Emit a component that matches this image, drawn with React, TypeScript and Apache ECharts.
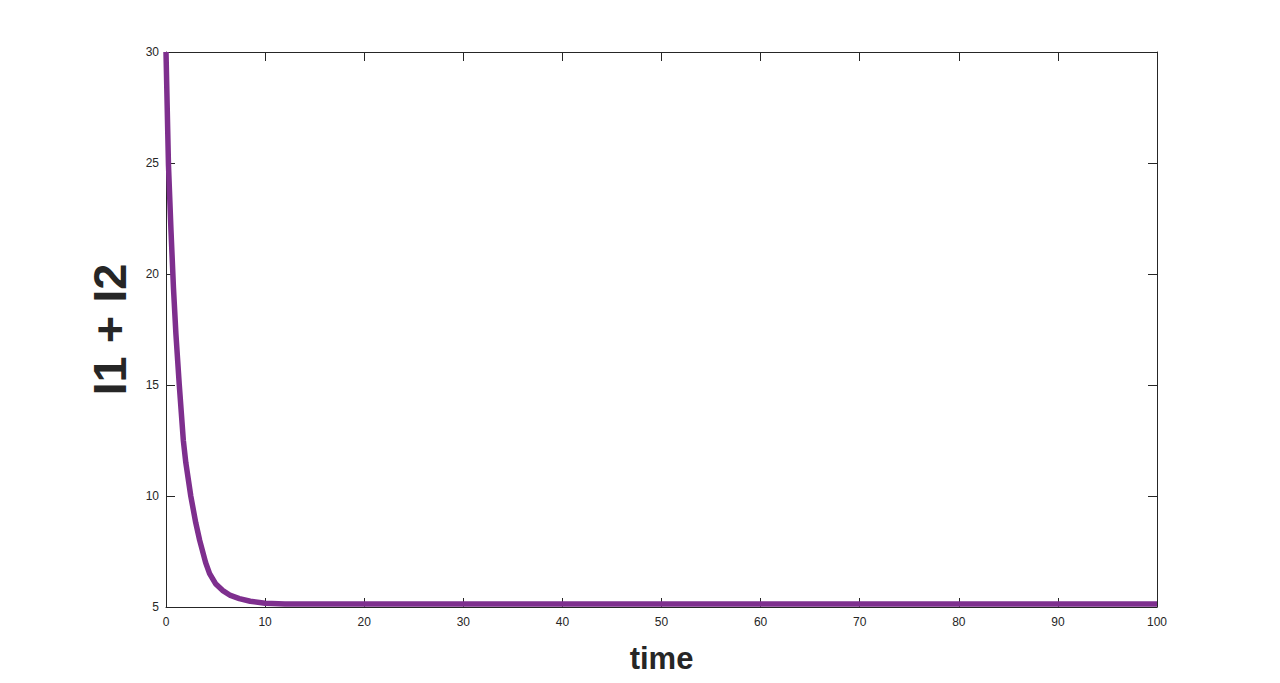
import React, { useEffect, useRef } from "react";
import * as echarts from "echarts";

const times = [0, 0.25, 0.5, 0.75, 1, 1.34, 1.75, 2, 2.5, 3, 3.4, 4, 4.4, 5, 5.7, 6.5, 7.4, 8.5, 10, 12, 15, 20, 30, 40, 50, 60, 70, 80, 90, 100];
const values = [30, 24.9, 22.0, 19.4, 17.3, 15.0, 12.5, 11.5, 10.0, 8.8, 8.0, 7.0, 6.5, 6.05, 5.75, 5.52, 5.38, 5.26, 5.17, 5.14, 5.13, 5.13, 5.13, 5.13, 5.13, 5.13, 5.13, 5.13, 5.13, 5.13];
const xTicks = [0, 10, 20, 30, 40, 50, 60, 70, 80, 90, 100];
const yTicks = [5, 10, 15, 20, 25, 30];

const FONT = "'Liberation Sans', Arial, Helvetica, sans-serif";
const INK = "#262626";

function tick() {
  return { show: true, inside: true, length: 9, lineStyle: { color: INK, width: 1 } };
}
function line() {
  return { show: true, onZero: false, lineStyle: { color: INK, width: 1 } };
}

export default function App() {
  const ref = useRef<HTMLDivElement>(null);
  useEffect(() => {
    const chart = echarts.init(ref.current!, null, { renderer: "svg" });
    const data = times.map((t, i) => [t, values[i]]);
    chart.setOption({
      animation: false,
      backgroundColor: "#ffffff",
      grid: { left: 166, right: 123, top: 52, bottom: 76, containLabel: false },
      xAxis: [
        {
          type: "value",
          min: xTicks[0],
          max: xTicks[xTicks.length - 1],
          interval: 10,
          position: "bottom",
          axisLine: line(),
          axisTick: tick(),
          splitLine: { show: false },
          axisLabel: { color: INK, fontSize: 12, fontFamily: FONT, margin: 9 },
          name: "time",
          nameLocation: "middle",
          nameGap: 36,
          nameTextStyle: { color: INK, fontSize: 31, fontWeight: "bold", fontFamily: FONT },
        },
        {
          type: "value",
          min: xTicks[0],
          max: xTicks[xTicks.length - 1],
          interval: 10,
          position: "top",
          axisLine: line(),
          axisTick: tick(),
          splitLine: { show: false },
          axisLabel: { show: false },
        },
      ],
      yAxis: [
        {
          type: "value",
          min: yTicks[0],
          max: yTicks[yTicks.length - 1],
          interval: 5,
          position: "left",
          axisLine: line(),
          axisTick: tick(),
          splitLine: { show: false },
          axisLabel: { color: INK, fontSize: 12, fontFamily: FONT, margin: 7 },
          name: "I1 + I2",
          nameLocation: "middle",
          nameGap: 33,
          nameRotate: 90,
          nameTextStyle: { color: INK, fontSize: 47, fontWeight: "bold", fontFamily: FONT },
        },
        {
          type: "value",
          min: yTicks[0],
          max: yTicks[yTicks.length - 1],
          interval: 5,
          position: "right",
          axisLine: line(),
          axisTick: tick(),
          splitLine: { show: false },
          axisLabel: { show: false },
        },
      ],
      series: [
        {
          type: "line",
          data,
          xAxisIndex: 0,
          yAxisIndex: 0,
          showSymbol: false,
          smooth: false,
          lineStyle: { color: "#7E2F8E", width: 5.5, join: "round", cap: "butt" },
          clip: true,
        },
      ],
    });
    return () => chart.dispose();
  }, []);
  return <div ref={ref} style={{ position: "fixed", left: 0, top: 0, width: 1280, height: 683 }} />;
}
